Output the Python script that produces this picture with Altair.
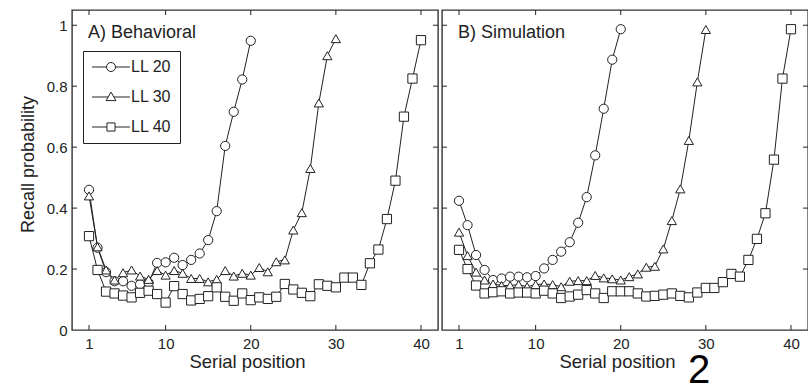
import altair as alt
import pandas as pd

# ---------------- data ----------------
series_names = ["LL 20", "LL 30", "LL 40"]

beh_ll20 = [0.46, 0.27, 0.19, 0.16, 0.16, 0.145, 0.15, 0.155, 0.22, 0.222,
            0.237, 0.213, 0.23, 0.251, 0.295, 0.39, 0.604, 0.716, 0.822, 0.949]
beh_ll30 = [0.44, 0.273, 0.197, 0.164, 0.188, 0.197, 0.177, 0.166, 0.195, 0.18,
            0.195, 0.186, 0.169, 0.169, 0.158, 0.166, 0.195, 0.177, 0.186, 0.18,
            0.205, 0.191, 0.224, 0.23, 0.328, 0.385, 0.53, 0.745, 0.90, 0.956]
beh_ll40 = [0.308, 0.197, 0.126, 0.12, 0.113, 0.107, 0.122, 0.129, 0.118, 0.09,
            0.144, 0.118, 0.097, 0.102, 0.111, 0.14, 0.109, 0.096, 0.12, 0.098,
            0.107, 0.102, 0.109, 0.151, 0.133, 0.122, 0.111, 0.15, 0.145, 0.14,
            0.172, 0.172, 0.148, 0.219, 0.264, 0.364, 0.49, 0.70, 0.825, 0.951]

sim_ll20 = [0.424, 0.344, 0.246, 0.197, 0.164, 0.169, 0.175, 0.175, 0.173, 0.177,
            0.202, 0.23, 0.257, 0.288, 0.352, 0.436, 0.573, 0.726, 0.887, 0.987]
sim_ll30 = [0.321, 0.244, 0.19, 0.164, 0.151, 0.146, 0.146, 0.149, 0.142, 0.149,
            0.151, 0.149, 0.142, 0.16, 0.162, 0.162, 0.179, 0.171, 0.168, 0.164,
            0.175, 0.184, 0.206, 0.209, 0.266, 0.359, 0.463, 0.622, 0.814, 0.986]
sim_ll40 = [0.263, 0.2, 0.146, 0.12, 0.124, 0.127, 0.12, 0.123, 0.123, 0.12,
            0.129, 0.12, 0.105, 0.11, 0.116, 0.131, 0.12, 0.105, 0.127, 0.127,
            0.127, 0.12, 0.11, 0.112, 0.116, 0.12, 0.112, 0.107, 0.123, 0.138,
            0.138, 0.157, 0.184, 0.175, 0.23, 0.299, 0.383, 0.559, 0.825, 0.987]

x_tick_values = [1, 10, 20, 30, 40]
y_tick_values = [0, 0.2, 0.4, 0.6, 0.8, 1.0]

panel_titles = ["A) Behavioral", "B) Simulation"]
x_title = "Serial position"
y_title = "Recall probability"
page_number = "2"

# ---------------- styling ----------------
FONT = "Liberation Sans"
INK = "#222222"
W, H = 366, 320

def make_df(series_values):
    rows = []
    for name, vals in zip(series_names, series_values):
        for i, v in enumerate(vals):
            rows.append({"pos": i + 1, "p": v, "list": name})
    return pd.DataFrame(rows)

x_scale = alt.Scale(domain=[-1, 42], nice=False, zero=False)
y_scale = alt.Scale(domain=[0, 1.05], nice=False, zero=True)

x_axis = alt.Axis(values=x_tick_values, title=x_title, grid=False, domain=False,
                  ticks=False, tickSize=0, labelFlush=False,
                  labelFont=FONT, labelFontSize=15, labelColor=INK,
                  labelBaseline="alphabetic", labelPadding=18,
                  titleFont=FONT, titleFontSize=18.5, titleFontWeight="normal",
                  titleColor=INK, titleX=175, titleY=37,
                  titleBaseline="alphabetic", titleAlign="center")

label_expr = "datum.value == 0 ? '0' : datum.value >= 0.999 ? '1' : format(datum.value, '.1f')"

y_axis_left = alt.Axis(values=y_tick_values, title=y_title, grid=False, domain=False,
                       ticks=False, tickSize=0, labelFlush=False, labelExpr=label_expr,
                       labelFont=FONT, labelFontSize=15, labelColor=INK, labelPadding=5,
                       titleFont=FONT, titleFontSize=18, titleFontWeight="normal",
                       titleColor=INK, titleX=-39, titleY=154, titleAngle=270,
                       titleBaseline="alphabetic", titleAlign="center")

# legend glyphs: short line with the marker in its middle
legend_paths = [
    "M-4.2,0L-1,0M1,0L4.2,0M1,0A1,1,0,1,1,-1,0A1,1,0,1,1,1,0Z",
    "M-4.2,0L-0.64,0M0.64,0L4.2,0M0,-1.1L1.1,0.8L-1.1,0.8Z",
    "M-4.2,0L-0.9,0M0.9,0L4.2,0M-0.9,-0.9L0.9,-0.9L0.9,0.9L-0.9,0.9Z",
]

legend = alt.Legend(orient="none", legendX=11, legendY=41, title=None,
                    padding=8, symbolOffset=12, labelOffset=12,
                    rowPadding=14,
                    labelFont=FONT, labelFontSize=16, labelColor=INK,
                    strokeColor=INK, fillColor="white",
                    symbolSize=81, symbolStrokeColor=INK,
                    symbolStrokeWidth=1, symbolOpacity=1)

def panel(series_values, title, left, extra_text=None):
    df = make_df(series_values)
    y_axis = y_axis_left if left else None
    yenc = dict(scale=y_scale, axis=y_axis)
    xenc = dict(scale=x_scale, axis=x_axis)

    yt = pd.DataFrame({"p": y_tick_values[1:]})
    xt = pd.DataFrame({"pos": x_tick_values})
    tick_style = dict(color=INK, strokeWidth=1)
    ticks = [
        alt.Chart(yt).mark_rule(**tick_style).encode(
            y=alt.Y("p:Q", **yenc), x=alt.value(0), x2=alt.value(5)),
        alt.Chart(yt).mark_rule(**tick_style).encode(
            y=alt.Y("p:Q", **yenc), x=alt.value(W - 5), x2=alt.value(W)),
        alt.Chart(xt).mark_rule(**tick_style).encode(
            x=alt.X("pos:Q", **xenc), y=alt.value(H - 5), y2=alt.value(H)),
        alt.Chart(xt).mark_rule(**tick_style).encode(
            x=alt.X("pos:Q", **xenc), y=alt.value(0), y2=alt.value(5)),
    ]

    lines = alt.Chart(df).mark_line(color=INK, strokeWidth=1).encode(
        x=alt.X("pos:Q", **xenc),
        y=alt.Y("p:Q", **yenc),
        detail="list:N",
    )
    points = alt.Chart(df).mark_point(filled=True, fill="white", stroke=INK,
                                      strokeWidth=1, size=85, opacity=1).encode(
        x=alt.X("pos:Q", **xenc),
        y=alt.Y("p:Q", **yenc),
        shape=alt.Shape("list:N",
                        scale=alt.Scale(domain=series_names,
                                        range=["circle", "triangle-up", "square"]),
                        legend=None),
    )
    label = alt.Chart(pd.DataFrame({"t": [title]})).mark_text(
        font=FONT, fontSize=18, color=INK, align="left", baseline="alphabetic"
    ).encode(text="t:N", x=alt.value(16), y=alt.value(27.5))

    layers = ticks + [lines, points, label]
    if left:
        # legend-only layer (draws no marks, carries the legend glyphs)
        legend_layer = alt.Chart(df).transform_filter("false").mark_point(
            filled=False, color=INK, strokeWidth=1, size=81, opacity=1
        ).encode(
            x=alt.X("pos:Q", **xenc),
            y=alt.Y("p:Q", **yenc),
            shape=alt.Shape("list:N",
                            scale=alt.Scale(domain=series_names, range=legend_paths),
                            legend=legend),
        )
        layers.append(legend_layer)
    if extra_text is not None:
        layers.append(
            alt.Chart(pd.DataFrame({"t": [extra_text]})).mark_text(
                font=FONT, fontSize=40, color="black", align="center",
                baseline="alphabetic"
            ).encode(text="t:N", x=alt.value(257), y=alt.value(373))
        )
    out = alt.layer(*layers).properties(width=W, height=H)
    if left:
        out = out.resolve_scale(shape="independent")
    return out

left_panel = panel([beh_ll20, beh_ll30, beh_ll40], panel_titles[0], True)
right_panel = panel([sim_ll20, sim_ll30, sim_ll40], panel_titles[1], False,
                    extra_text=page_number)

L, T = 72, 10
chart = alt.hconcat(left_panel, right_panel, spacing=0).resolve_scale(
    shape="independent"
).resolve_legend(shape="independent").properties(
    autosize=alt.AutoSizeParams(type="none"),
    padding={"left": L, "top": T, "right": 808 - L, "bottom": 386 - T},
    background="white",
).configure_view(stroke="#333333", strokeWidth=1.4)

chart.save("out.html", embed_options={"renderer": "svg", "actions": False})
